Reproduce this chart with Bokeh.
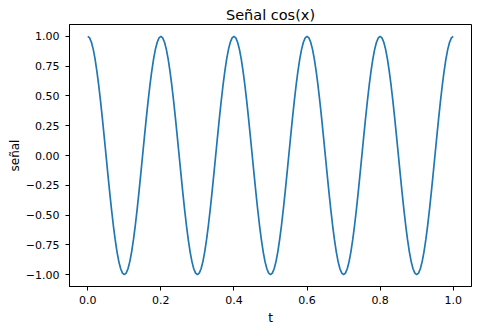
from bokeh.plotting import figure
from bokeh.models import Range1d, FixedTicker
from bokeh.embed import file_html
from bokeh.resources import INLINE

t = [0.000, 0.005, 0.010, 0.015, 0.020, 0.025, 0.030, 0.035, 0.040, 0.045,
     0.050, 0.055, 0.060, 0.065, 0.070, 0.075, 0.080, 0.085, 0.090, 0.095,
     0.100, 0.105, 0.110, 0.115, 0.120, 0.125, 0.130, 0.135, 0.140, 0.145,
     0.150, 0.155, 0.160, 0.165, 0.170, 0.175, 0.180, 0.185, 0.190, 0.195,
     0.200, 0.205, 0.210, 0.215, 0.220, 0.225, 0.230, 0.235, 0.240, 0.245,
     0.250, 0.255, 0.260, 0.265, 0.270, 0.275, 0.280, 0.285, 0.290, 0.295,
     0.300, 0.305, 0.310, 0.315, 0.320, 0.325, 0.330, 0.335, 0.340, 0.345,
     0.350, 0.355, 0.360, 0.365, 0.370, 0.375, 0.380, 0.385, 0.390, 0.395,
     0.400, 0.405, 0.410, 0.415, 0.420, 0.425, 0.430, 0.435, 0.440, 0.445,
     0.450, 0.455, 0.460, 0.465, 0.470, 0.475, 0.480, 0.485, 0.490, 0.495,
     0.500, 0.505, 0.510, 0.515, 0.520, 0.525, 0.530, 0.535, 0.540, 0.545,
     0.550, 0.555, 0.560, 0.565, 0.570, 0.575, 0.580, 0.585, 0.590, 0.595,
     0.600, 0.605, 0.610, 0.615, 0.620, 0.625, 0.630, 0.635, 0.640, 0.645,
     0.650, 0.655, 0.660, 0.665, 0.670, 0.675, 0.680, 0.685, 0.690, 0.695,
     0.700, 0.705, 0.710, 0.715, 0.720, 0.725, 0.730, 0.735, 0.740, 0.745,
     0.750, 0.755, 0.760, 0.765, 0.770, 0.775, 0.780, 0.785, 0.790, 0.795,
     0.800, 0.805, 0.810, 0.815, 0.820, 0.825, 0.830, 0.835, 0.840, 0.845,
     0.850, 0.855, 0.860, 0.865, 0.870, 0.875, 0.880, 0.885, 0.890, 0.895,
     0.900, 0.905, 0.910, 0.915, 0.920, 0.925, 0.930, 0.935, 0.940, 0.945,
     0.950, 0.955, 0.960, 0.965, 0.970, 0.975, 0.980, 0.985, 0.990, 0.995,
     1.000]
senal = [
    1.000, 0.988, 0.951, 0.891, 0.809, 0.707, 0.588, 0.454, 0.309, 0.156,
    0.000, -0.156, -0.309, -0.454, -0.588, -0.707, -0.809, -0.891, -0.951, -0.988,
    -1.000, -0.988, -0.951, -0.891, -0.809, -0.707, -0.588, -0.454, -0.309, -0.156,
    0.000, 0.156, 0.309, 0.454, 0.588, 0.707, 0.809, 0.891, 0.951, 0.988,
    1.000, 0.988, 0.951, 0.891, 0.809, 0.707, 0.588, 0.454, 0.309, 0.156,
    0.000, -0.156, -0.309, -0.454, -0.588, -0.707, -0.809, -0.891, -0.951, -0.988,
    -1.000, -0.988, -0.951, -0.891, -0.809, -0.707, -0.588, -0.454, -0.309, -0.156,
    0.000, 0.156, 0.309, 0.454, 0.588, 0.707, 0.809, 0.891, 0.951, 0.988,
    1.000, 0.988, 0.951, 0.891, 0.809, 0.707, 0.588, 0.454, 0.309, 0.156,
    0.000, -0.156, -0.309, -0.454, -0.588, -0.707, -0.809, -0.891, -0.951, -0.988,
    -1.000, -0.988, -0.951, -0.891, -0.809, -0.707, -0.588, -0.454, -0.309, -0.156,
    0.000, 0.156, 0.309, 0.454, 0.588, 0.707, 0.809, 0.891, 0.951, 0.988,
    1.000, 0.988, 0.951, 0.891, 0.809, 0.707, 0.588, 0.454, 0.309, 0.156,
    0.000, -0.156, -0.309, -0.454, -0.588, -0.707, -0.809, -0.891, -0.951, -0.988,
    -1.000, -0.988, -0.951, -0.891, -0.809, -0.707, -0.588, -0.454, -0.309, -0.156,
    0.000, 0.156, 0.309, 0.454, 0.588, 0.707, 0.809, 0.891, 0.951, 0.988,
    1.000, 0.988, 0.951, 0.891, 0.809, 0.707, 0.588, 0.454, 0.309, 0.156,
    0.000, -0.156, -0.309, -0.454, -0.588, -0.707, -0.809, -0.891, -0.951, -0.988,
    -1.000, -0.988, -0.951, -0.891, -0.809, -0.707, -0.588, -0.454, -0.309, -0.156,
    0.000, 0.156, 0.309, 0.454, 0.588, 0.707, 0.809, 0.891, 0.951, 0.988,
    1.000]

x_ticks = [0.0, 0.2, 0.4, 0.6, 0.8, 1.0]
x_tick_labels = ["0.0", "0.2", "0.4", "0.6", "0.8", "1.0"]
y_ticks = [-1.0, -0.75, -0.5, -0.25, 0.0, 0.25, 0.5, 0.75, 1.0]
y_tick_labels = ["\u22121.00", "\u22120.75", "\u22120.50", "\u22120.25", "0.00",
                 "0.25", "0.50", "0.75", "1.00"]

FONT = "DejaVu Sans"

p = figure(width=490, height=331, output_backend="svg", toolbar_location=None,
           x_range=Range1d(-0.05, 1.05), y_range=Range1d(-1.1, 1.1),
           min_border_left=69, min_border_right=19, min_border_top=24,
           min_border_bottom=45)

p.title.text = "Señal cos(x)"
p.title.align = "center"
p.title.text_font = FONT
p.title.text_font_size = "14.5px"
p.title.text_font_style = "normal"
p.title.text_color = "black"
p.title.standoff = 4

p.line(t, senal, line_color="#1f77b4", line_width=1.7)

p.xgrid.visible = False
p.ygrid.visible = False
p.outline_line_color = "black"
p.outline_line_width = 1
p.background_fill_color = "white"
p.border_fill_color = "white"

p.xaxis.ticker = FixedTicker(ticks=x_ticks)
p.xaxis.major_label_overrides = {k: v for k, v in zip(x_ticks, x_tick_labels)}
p.yaxis.ticker = FixedTicker(ticks=y_ticks)
p.yaxis.major_label_overrides = {k: v for k, v in zip(y_ticks, y_tick_labels)}

for ax in (p.xaxis[0], p.yaxis[0]):
    ax.axis_line_color = "black"
    ax.major_tick_line_color = "black"
    ax.major_tick_in = 0
    ax.major_tick_out = 4
    ax.minor_tick_line_color = None
    ax.major_label_text_font = FONT
    ax.major_label_text_font_size = "11px"
    ax.major_label_text_color = "black"
    ax.axis_label_text_font = FONT
    ax.axis_label_text_font_size = "12px"
    ax.axis_label_text_font_style = "normal"
    ax.axis_label_text_color = "black"

p.xaxis.major_label_standoff = 5
p.xaxis.axis_label_standoff = 4
p.yaxis.major_label_standoff = 6
p.yaxis.axis_label_standoff = 1

p.xaxis.axis_label = "t"
p.yaxis.axis_label = "señal"

open("out.html", "w").write(file_html(p, INLINE))
